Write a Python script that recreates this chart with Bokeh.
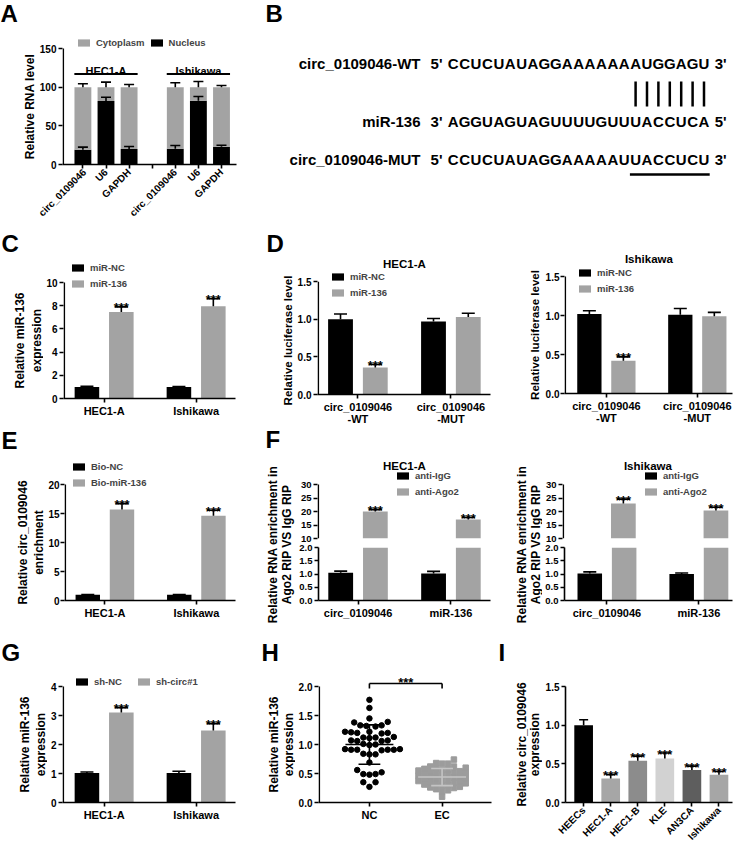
import math
import numpy as np
from bokeh.plotting import figure
from bokeh.layouts import row, column
from bokeh.models import (Range1d, FixedTicker, Legend, LegendItem,
                          ColumnDataSource, NumeralTickFormatter)
from bokeh.core.properties import value
from bokeh.embed import file_html
from bokeh.resources import INLINE

FONT = "Liberation Sans"
BLACK = "#000000"
GREY = "#a3a3a3"

# ======================= DATA =======================
# A
A_genes = ["circ_0109046", "U6", "GAPDH"]
A_cells = ["HEC1-A", "Ishikawa"]
A_series = ["Cytoplasm", "Nucleus"]
A_nucleus = [19.0, 82.0, 20.0, 20.5, 82.5, 23.0]
A_nucleus_err = [3.5, 5.0, 3.3, 4.0, 5.5, 1.8]
A_total = [100.0, 100.0, 100.0, 100.0, 100.0, 100.0]
A_cyto_err = [4.4, 6.5, 3.5, 5.7, 7.4, 2.2]
A_yticks = [0, 50, 100, 150]

# B
B_names = ["circ_0109046-WT", "miR-136", "circ_0109046-MUT"]
B_seqs = ["CCUCUAUAGGAAAAAAAUGGAGU", "AGGUAGUAGUUUUGUUUACCUCA", "CCUCUAUAGGAAAAAUUACCUCU"]
B_left = ["5'", "3'", "5'"]
B_right = ["3'", "5'", "3'"]
B_pairs = [16, 17, 18, 19, 20, 21, 22]
B_mut_site = [16, 22]

# C
C_cells = ["HEC1-A", "Ishikawa"]
C_series = ["miR-NC", "miR-136"]
C_nc = [1.0, 1.0]
C_nc_err = [0.05, 0.04]
C_mir = [7.45, 7.95]
C_mir_err = [0.45, 0.65]
C_sig = ["***", "***"]
C_yticks = [0, 2, 4, 6, 8, 10]

# D
D_groups = ["circ_0109046\n-WT", "circ_0109046\n-MUT"]
D_series = ["miR-NC", "miR-136"]
D1_title = "HEC1-A"
D1_nc = [1.0, 0.97]
D1_nc_err = [0.07, 0.04]
D1_mir = [0.36, 1.03]
D1_mir_err = [0.04, 0.05]
D1_sig = ["***", ""]
D2_title = "Ishikawa"
D2_nc = [1.02, 1.01]
D2_nc_err = [0.04, 0.08]
D2_mir = [0.42, 0.99]
D2_mir_err = [0.05, 0.05]
D2_sig = ["***", ""]
D_yticks = [0.0, 0.5, 1.0, 1.5]

# E
E_cells = ["HEC1-A", "Ishikawa"]
E_series = ["Bio-NC", "Bio-miR-136"]
E_nc = [1.0, 1.0]
E_nc_err = [0.03, 0.03]
E_bio = [15.7, 14.6]
E_bio_err = [1.0, 0.95]
E_sig = ["***", "***"]
E_yticks = [0, 5, 10, 15, 20]

# F
F_groups = ["circ_0109046", "miR-136"]
F_series = ["anti-IgG", "anti-Ago2"]
F1_title = "HEC1-A"
F1_igg = [1.05, 1.02]
F1_igg_err = [0.06, 0.08]
F1_ago = [20.0, 17.0]
F1_ago_err = [0.7, 0.8]
F2_title = "Ishikawa"
F2_igg = [1.02, 1.0]
F2_igg_err = [0.06, 0.04]
F2_ago = [23.0, 20.4]
F2_ago_err = [1.6, 1.2]
F_sig = ["***", "***"]
F_upper_ticks = [10, 15, 20, 25, 30]
F_lower_ticks = [0.0, 0.5, 1.0, 1.5, 2.0]
F_ytitle = ["Relative RNA enrichment in", "Ago2 RIP VS IgG RIP"]

# G
G_cells = ["HEC1-A", "Ishikawa"]
G_series = ["sh-NC", "sh-circ#1"]
G_nc = [1.02, 1.02]
G_nc_err = [0.03, 0.06]
G_sh = [3.1, 2.48]
G_sh_err = [0.17, 0.24]
G_sig = ["***", "***"]
G_yticks = [0, 1, 2, 3, 4]

# H
H_groups = ["NC", "EC"]
H_nc = [1.77, 1.63, 1.45, 1.38, 1.39, 1.32, 1.33, 1.31, 1.33, 1.22, 1.20, 1.21,
        1.19, 1.22, 1.20, 1.12, 1.12, 1.11, 1.13, 1.06, 1.07, 1.07, 1.06, 1.00,
        1.01, 0.99, 0.92, 0.91, 0.91, 0.90, 0.91, 0.91, 0.92, 0.83, 0.84, 0.83,
        0.69, 0.56, 0.52, 0.49, 0.49, 0.48, 0.35, 0.35, 0.27]
H_ec = [0.74, 0.68, 0.67, 0.67, 0.62, 0.62, 0.60, 0.59, 0.58, 0.57, 0.56, 0.55,
        0.54, 0.53, 0.52, 0.51, 0.50, 0.49, 0.48, 0.47, 0.46, 0.45, 0.44, 0.43,
        0.42, 0.41, 0.40, 0.39, 0.38, 0.37, 0.36, 0.35, 0.34, 0.33, 0.32, 0.31,
        0.30, 0.29, 0.27, 0.26, 0.25, 0.23, 0.21, 0.19, 0.10]
H_sig = "***"
H_yticks = [0.0, 0.5, 1.0, 1.5, 2.0]

# I
I_cells = ["HEECs", "HEC1-A", "HEC1-B", "KLE", "AN3CA", "Ishikawa"]
I_vals = [1.0, 0.31, 0.54, 0.57, 0.42, 0.36]
I_errs = [0.07, 0.05, 0.06, 0.07, 0.05, 0.04]
I_sig = ["", "***", "***", "***", "***", "***"]
I_yticks = [0.0, 0.5, 1.0, 1.5]
I_palette = ["#000000", "#a6a6a6", "#8c8c8c", "#d2d2d2", "#5e5e5e", "#a6a6a6"]

# ======================= HELPERS =======================
GEO = {}


def mkfig(W, H, fl, ft_axis, fr, fb, xr, yr, ft_frame=None):
    """Plot whose y axis line ends at the top tick; extra head-room above it
    (ft_frame < ft_axis) holds legends and titles inside the frame."""
    if ft_frame is None:
        ft_frame = ft_axis
    ext = ft_frame < ft_axis
    ppu = (fb - ft_axis) / (yr[1] - yr[0])
    yend = yr[1] + (ft_axis - ft_frame) / ppu
    ppx = (fr - fl) / (xr[1] - xr[0])
    x0 = xr[0] - (0.8 / ppx if ext else 0.0)
    p = figure(width=W, height=H, x_range=Range1d(x0, xr[1]), y_range=Range1d(yr[0], yend),
               output_backend="svg", toolbar_location=None, title=None,
               min_border_left=fl, min_border_top=ft_frame,
               min_border_right=W - fr, min_border_bottom=H - fb)
    p.frame_align = False
    p.grid.visible = False
    p.outline_line_color = None
    GEO[p.id] = dict(fl=fl, fb=fb, ppu=ppu, y0=yr[0], ytop=yr[1], xa=xr[0], ext=ext,
                     xmid=(xr[0] + xr[1]) / 2)
    return p


def ydat(p, cy):
    g = GEO[p.id]
    return g["y0"] + (g["fb"] - cy) / g["ppu"]


def blank(W, H):
    p = figure(width=W, height=H, x_range=Range1d(0, W), y_range=Range1d(H, 0),
               output_backend="svg", toolbar_location=None, title=None, min_border=0)
    p.frame_align = False
    p.axis.visible = False
    p.grid.visible = False
    p.outline_line_color = None
    return p


def btext(p, x, y, s, size, align="center", baseline="middle", angle=0.0):
    p.text(x=[x], y=[y], text=[s], angle=angle, text_font=value(FONT),
           text_font_size=f"{size}px", text_font_style="bold", text_align=align,
           text_baseline=baseline, text_color="black")


def side(W, H, letter=None, lx=0, ly=0, titles=(), tx=(), ty=0, size=12):
    S = blank(W, H)
    if letter:
        btext(S, lx, ly, letter, 24, align="left")
    for x, t in zip(tx, titles):
        btext(S, x, ty, t, size, angle=math.pi / 2)
    return S


def style_axes(p, xticks, xlabels, yticks, yfmt=None, yfs=10, xfs=11, xorient=None, ystand=2):
    p.xaxis.ticker = FixedTicker(ticks=xticks)
    p.xaxis.major_label_overrides = {t: l for t, l in zip(xticks, xlabels)}
    p.yaxis.ticker = FixedTicker(ticks=yticks)
    if yfmt:
        p.yaxis.formatter = NumeralTickFormatter(format=yfmt)
    for ax in p.axis:
        ax.axis_line_width = 1.6
        ax.axis_line_color = "black"
        ax.major_tick_line_width = 1.6
        ax.major_tick_out = 4
        ax.major_tick_in = 0
        ax.minor_tick_line_color = None
        ax.major_label_text_font = FONT
        ax.major_label_text_font_style = "bold"
        ax.major_label_text_color = "black"
        ax.major_label_standoff = 2
        ax.major_label_text_line_height = 1.0
    p.yaxis.major_label_standoff = ystand
    p.xaxis.major_label_text_font_size = f"{xfs}px"
    p.yaxis.major_label_text_font_size = f"{yfs}px"
    if xorient is not None:
        p.xaxis.major_label_orientation = xorient
    g = GEO[p.id]
    if g["ext"]:
        # the y axis line stops at the top tick
        p.yaxis.axis_line_color = None
        p.segment(x0=[g["xa"]], y0=[g["y0"]], x1=[g["xa"]], y1=[g["ytop"]],
                  line_color="black", line_width=1.6)


def title_in(p, cy, text, size=11.5):
    g = GEO[p.id]
    p.text(x=[g["xmid"]], y=[ydat(p, cy)], text=[text], text_font=value(FONT),
           text_font_size=f"{size}px", text_font_style="bold", text_align="center",
           text_baseline="middle", text_color="black")


def bars(p, xs, tops, width, color, bottoms=None):
    src = ColumnDataSource(dict(x=list(xs), top=list(tops),
                                bottom=list(bottoms) if bottoms is not None else [0] * len(xs)))
    return p.vbar(x="x", top="top", bottom="bottom", width=width, source=src,
                  fill_color=color, line_color=None)


def errbars(p, xs, tops, errs, cap, color="black"):
    src = ColumnDataSource(dict(x=list(xs), y0=list(tops),
                                y1=[t + e for t, e in zip(tops, errs)]))
    p.segment(x0="x", y0="y0", x1="x", y1="y1", source=src, line_color=color, line_width=1.6)
    p.scatter(x="x", y="y1", source=src, marker="dash", size=cap, line_color=color, line_width=1.6)


def stars(p, xs, ys, sig, size=13):
    p.text(x=list(xs), y=list(ys), text=list(sig), text_font=value(FONT),
           text_font_size=f"{size}px", text_font_style="bold", text_align="center",
           text_baseline="alphabetic", y_offset=1, text_color="black")


def legend(p, items, loc, orientation="vertical", spacing=5, fs=9.5):
    lg = Legend(items=[LegendItem(label=l, renderers=[r]) for l, r in items],
                location=loc, orientation=orientation,
                glyph_width=15, glyph_height=9, label_height=9, label_width=10,
                label_text_font=FONT, label_text_font_size=f"{fs}px",
                label_text_font_style="bold", label_standoff=5, spacing=spacing,
                padding=0, margin=0, border_line_color=None, background_fill_alpha=0,
                inactive_fill_alpha=0)
    p.add_layout(lg)


OFF = 0.187
BW = 0.267


def grouped(p, a, ae, b, be, sig, cap=13, show_a=True):
    xs = list(range(len(a)))
    xa = [x - OFF for x in xs]
    xb = [x + OFF for x in xs]
    ra = bars(p, xa, a, BW, BLACK)
    if show_a:
        errbars(p, xa, a, ae, cap)
    else:
        # these bars lie below this axis segment; keep them only as the legend swatch
        ra.visible = False
    rb = bars(p, xb, b, BW, GREY)
    errbars(p, xb, b, be, cap)
    if sig is not None:
        stars(p, xb, [v + e for v, e in zip(b, be)], sig)
    return ra, rb


# ======================= PANEL A =======================
SA = side(36, 228, "A", 0, 13, ["Relative RNA level"], [29], 106)
A = mkfig(212, 228, 20, 48, 200, 164, (-0.85, 6.65), (0, 150), ft_frame=34)
ng = len(A_genes)
A_x = [g * (ng + 1) + j for g in range(len(A_cells)) for j in range(ng)]
rn = bars(A, A_x, A_nucleus, 0.73, BLACK)
rc = bars(A, A_x, A_total, 0.73, GREY, bottoms=A_nucleus)
errbars(A, A_x, A_nucleus, A_nucleus_err, 10)
errbars(A, A_x, A_total, A_cyto_err, 10)
A_line_y = 117
for g, cell in enumerate(A_cells):
    x0 = g * (ng + 1) - 0.37
    x1 = g * (ng + 1) + ng - 1 + 0.37
    A.segment(x0=[x0], y0=[A_line_y], x1=[x1], y1=[A_line_y], line_color="black", line_width=2)
    A.text(x=[g * (ng + 1) + (ng - 1) / 2], y=[A_line_y], text=[cell], text_font=value(FONT),
           text_font_size="11px", text_font_style="bold", text_align="center",
           text_baseline="alphabetic", y_offset=-3)
A_ticks = list(range(len(A_cells) * (ng + 1) - 1))
A_labels = A_genes + [""] + A_genes
style_axes(A, A_ticks, A_labels, A_yticks, yfs=10, xfs=10, xorient=math.pi / 4)
legend(A, [(A_series[0], rc), (A_series[1], rn)], (14, 116), orientation="horizontal", spacing=4)
cellA = row(SA, A)

# ======================= PANEL B =======================
B = blank(486, 228)
seq_x0 = 199
cw = 11.4
line_y = [63, 121, 159]
cx, cy, ct = [], [], []
for li, s in enumerate(B_seqs):
    for i, ch in enumerate(s):
        cx.append(seq_x0 + cw * (i + 0.5))
        cy.append(line_y[li])
        ct.append(ch)
B.text(x=cx, y=cy, text=ct, text_font=value(FONT), text_font_size="15px",
       text_font_style="bold", text_align="center", text_baseline="middle")
nlen = len(B_seqs[0])
B.text(x=[172] * 3, y=line_y, text=B_names, text_font=value(FONT), text_font_size="15px",
       text_font_style="bold", text_align="right", text_baseline="middle")
B.text(x=[seq_x0 - 5] * 3, y=line_y, text=B_left, text_font=value(FONT), text_font_size="15px",
       text_font_style="bold", text_align="right", text_baseline="middle")
B.text(x=[seq_x0 + cw * nlen + 5] * 3, y=line_y, text=B_right, text_font=value(FONT),
       text_font_size="15px", text_font_style="bold", text_align="left", text_baseline="middle")
px_ = [seq_x0 + cw * (i + 0.5) for i in B_pairs]
B.segment(x0=px_, y0=[81] * len(px_), x1=px_, y1=[106] * len(px_), line_color="black", line_width=2.5)
B.segment(x0=[seq_x0 + cw * B_mut_site[0]], y0=[174], x1=[seq_x0 + cw * (B_mut_site[1] + 1)],
          y1=[174], line_color="black", line_width=2.5)
btext(B, 17, 13, "B", 24, align="left")

# ======================= PANEL C =======================
SC = side(43, 199, "C", 1, 15, ["Relative miR-136", "expression"], [19, 36], 112)
C = mkfig(205, 199, 18, 54, 192, 170, (-0.433, 1.428), (0, 10), ft_frame=33)
ra, rb = grouped(C, C_nc, C_nc_err, C_mir, C_mir_err, C_sig)
style_axes(C, [0, 1], C_cells, C_yticks)
legend(C, [(C_series[0], ra), (C_series[1], rb)], (7, 109))
cellC = row(SC, C)

# ======================= PANEL D =======================
SD1 = side(46, 199, "D", 18, 15, ["Relative luciferase level"], [39], 112, size=11.5)
D1 = mkfig(200, 199, 22, 54, 196, 170, (-0.426, 1.426), (0, 1.5), ft_frame=26)
ra, rb = grouped(D1, D1_nc, D1_nc_err, D1_mir, D1_mir_err, D1_sig)
style_axes(D1, [0, 1], D_groups, D_yticks, yfmt="0.0")
legend(D1, [(D_series[0], ra), (D_series[1], rb)], (13, 96))
title_in(D1, 36, D1_title)
cellD1 = row(SD1, D1)

SD2 = side(48, 199, None, 0, 0, ["Relative luciferase level"], [40], 106.5, size=11.5)
D2 = mkfig(192, 199, 19, 48, 190, 165, (-0.452, 1.387), (0, 1.5), ft_frame=20)
ra, rb = grouped(D2, D2_nc, D2_nc_err, D2_mir, D2_mir_err, D2_sig)
style_axes(D2, [0, 1], D_groups, D_yticks, yfmt="0.0", ystand=1)
legend(D2, [(D_series[0], ra), (D_series[1], rb)], (13, 99))
title_in(D2, 30, D2_title)
cellD2 = row(SD2, D2)

# ======================= PANEL E =======================
SE = side(45, 210, "E", 1, 13, ["Relative circ_0109046", "enrichment"], [22, 38], 115)
E = mkfig(203, 210, 16, 57, 190, 173, (-0.433, 1.428), (0, 20), ft_frame=34)
ra, rb = grouped(E, E_nc, E_nc_err, E_bio, E_bio_err, E_sig)
style_axes(E, [0, 1], E_cells, E_yticks, ystand=1)
legend(E, [(E_series[0], ra), (E_series[1], rb)], (7, 112))
cellE = row(SE, E)


# ======================= PANEL F =======================
def f_panel(title, igg, igg_err, ago, ago_err, W, fl, fr, xr, lines_x, lg_x, letter):
    T = side(48, 210, letter, 17, 12, F_ytitle, lines_x, 117)
    U = mkfig(W, 115, fl, 57, fr, 111, xr, (10, 30), ft_frame=27)
    L = mkfig(W, 95, fl, 5, fr, 58, xr, (0, 2))
    ra, rb = grouped(U, igg, igg_err, ago, ago_err, F_sig, show_a=False)
    legend(U, [(F_series[0], ra), (F_series[1], rb)], (lg_x, 41))
    title_in(U, 38, title)
    grouped(L, igg, igg_err, ago, ago_err, None)
    style_axes(U, [0, 1], F_groups, F_upper_ticks, yfs=9.5)
    U.xaxis.visible = False
    style_axes(L, [0, 1], F_groups, F_lower_ticks, yfmt="0.0", yfs=9.5)
    return row(T, column(U, L))


cellF1 = f_panel(F1_title, F1_igg, F1_igg_err, F1_ago, F1_ago_err, 198, 21, 194,
                 (-0.426, 1.426), [24, 38], 78, "F")
cellF2 = f_panel(F2_title, F2_igg, F2_igg_err, F2_ago, F2_ago_err, 192, 20, 190,
                 (-0.462, 1.366), [27, 41], 81, None)

# ======================= PANEL G =======================
SG = side(47, 212, "G", 1, 15, ["Relative miR-136", "expression"], [24, 40], 107)
G = mkfig(201, 212, 13, 49, 188, 165, (-0.444, 1.428), (0, 4), ft_frame=34)
ra, rb = grouped(G, G_nc, G_nc_err, G_sh, G_sh_err, G_sig)
style_axes(G, [0, 1], G_cells, G_yticks)
legend(G, [(G_series[0], ra), (G_series[1], rb)], (12, 115), orientation="horizontal", spacing=14)
cellG = row(SG, G)


# ======================= PANEL H =======================
def swarm(vals, ppx, ppy, dw, dh):
    vals = np.asarray(vals, dtype=float)
    order = np.argsort(vals, kind="stable")
    placed = []
    out = np.zeros(len(vals))
    for i in order:
        y = vals[i] * ppy
        k = 0
        while True:
            step = (k + 1) // 2
            c = step * dw * 0.5 * (1 if k % 2 == 1 else -1)
            if all(((c - qx) / dw) ** 2 + ((y - qy) / dh) ** 2 >= 0.98 for qx, qy in placed):
                break
            k += 1
        placed.append((c, y))
        out[i] = c / ppx
    return out


SH = side(47, 212, "H", 13, 15, ["Relative miR-136", "expression"], [25, 40], 107)
H_fl, H_fr = 21, 196
H_xr = (-0.69, 1.68)
H = mkfig(199, 212, H_fl, 49, H_fr, 165, H_xr, (0, 2.0), ft_frame=28)
ppx = (H_fr - H_fl) / (H_xr[1] - H_xr[0])
ppy = GEO[H.id]["ppu"]
for gi, (vals, col, mk, dw, dh) in enumerate([(H_nc, "black", "circle", 6.2, 6.2),
                                              (H_ec, "#9c9c9c", "square", 6.0, 5.0)]):
    offs = swarm(vals, ppx, ppy, dw, dh)
    H.scatter(x=list(gi + offs), y=vals, marker=mk, size=5.5, fill_color=col, line_color=col)
    m = float(np.mean(vals))
    s = float(np.std(vals, ddof=1))
    lc = "black" if gi == 0 else "#c4c4c4"
    H.segment(x0=[gi - 0.33], y0=[m], x1=[gi + 0.33], y1=[m], line_color=lc, line_width=1.6)
    H.segment(x0=[gi], y0=[m - s], x1=[gi], y1=[m + s], line_color=lc, line_width=1.6)
    H.segment(x0=[gi - 0.15, gi - 0.15], y0=[m - s, m + s], x1=[gi + 0.15, gi + 0.15],
              y1=[m - s, m + s], line_color=lc, line_width=1.6)
br_top = ydat(H, 46)
br_leg = ydat(H, 51)
H.segment(x0=[0, 0, 1], y0=[br_leg, br_top, br_top], x1=[0, 1, 1], y1=[br_top, br_top, br_leg],
          line_color="black", line_width=1.6)
H.text(x=[0.5], y=[br_top], text=[H_sig], text_font=value(FONT), text_font_size="13px",
       text_font_style="bold", text_align="center", text_baseline="alphabetic", y_offset=-1)
style_axes(H, [0, 1], H_groups, H_yticks, yfmt="0.0")
cellH = row(SH, H)

# ======================= PANEL I =======================
SI = side(48, 212, "I", 4, 15, ["Relative circ_0109046", "expression"], [27, 40], 107)
I = mkfig(192, 212, 22, 49, 190, 165, (-0.67, 5.5), (0, 1.5))
I_x = list(range(len(I_cells)))
isrc = ColumnDataSource(dict(x=I_x, top=I_vals, color=I_palette))
I.vbar(x="x", top="top", width=0.69, fill_color="color", line_color=None, source=isrc)
errbars(I, I_x, I_vals, I_errs, 9)
stars(I, I_x, [v + e for v, e in zip(I_vals, I_errs)], I_sig)
style_axes(I, I_x, I_cells, I_yticks, yfmt="0.0", xfs=10, xorient=math.pi / 4)
cellI = row(SI, I)

layout = column(
    row(cellA, B),
    row(cellC, cellD1, cellD2),
    row(cellE, cellF1, cellF2),
    row(cellG, cellH, cellI),
)

open("out.html", "w").write(file_html(layout, INLINE))
